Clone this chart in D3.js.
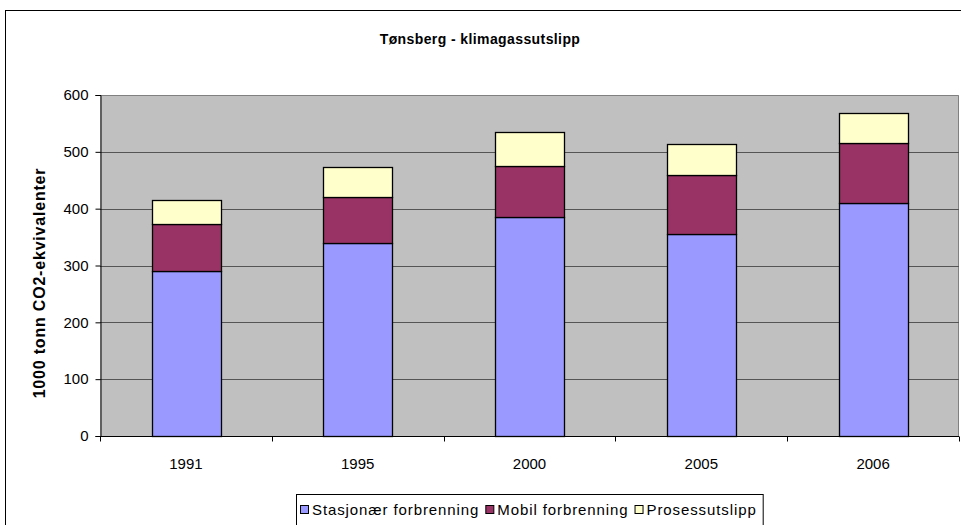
<!DOCTYPE html>
<meta charset="utf-8">
<script src="https://d3js.org/d3.v7.min.js"></script>
<style>
  body { margin: 0; background: #fff; }
  svg text { font-family: "Liberation Sans", Arial, sans-serif; fill: #000; }
</style>
<div id="chart"></div>
<script>

  // data
  var years = ["1991", "1995", "2000", "2005", "2006"];
  var stasjonaer = [291, 340, 385, 356, 410];
  var mobil = [82, 81, 90, 103, 106];
  var prosess = [43, 53, 60, 54, 52];
  var seriesNames = ["Stasjonær forbrenning", "Mobil forbrenning", "Prosessutslipp"];
  var seriesColors = ["#9999FF", "#993366", "#FFFFCC"];
  var yTicks = [0, 100, 200, 300, 400, 500, 600];

  var W = 961, H = 525;
  var margin = { top: 95, right: 2, bottom: 89, left: 100 };
  var width = W - margin.left - margin.right,
    height = H - margin.top - margin.bottom;

  var svg = d3.select("#chart").append("svg")
    .attr("width", W)
    .attr("height", H);

  // chart frame
  svg.append("rect")
    .attr("x", 5.5).attr("y", 10.5)
    .attr("width", W + 20).attr("height", H + 20)
    .attr("fill", "#fff").attr("stroke", "#000");

  // title
  svg.append("text")
    .attr("x", 480).attr("y", 44)
    .attr("text-anchor", "middle")
    .style("font-size", "14px")
    .style("font-weight", "bold")
    .style("letter-spacing", "0.4px")
    .text("Tønsberg - klimagassutslipp");

  var g = svg.append("g")
    .attr("transform", "translate(" + margin.left + "," + margin.top + ")");

  var x = d3.scaleBand().domain(years).range([0, width]).paddingInner(0.6).paddingOuter(0.3);
  var xb = d3.scaleBand().domain(years).range([0, width]);
  var y = d3.scaleLinear().domain([0, 600]).range([height, 0]);

  // plot area
  g.append("rect")
    .attr("width", width).attr("height", height)
    .attr("fill", "#C0C0C0");
  g.append("path")
    .attr("d", "M0,0.5H" + (width - 0.5) + "V" + height)
    .attr("fill", "none").attr("stroke", "#808080");

  // gridlines
  g.append("g").selectAll("line")
    .data(yTicks.filter(function (d) { return d > 0 && d < 600; }))
    .enter().append("line")
    .attr("x1", 0).attr("x2", width)
    .attr("y1", function (d) { return Math.round(y(d)) + 0.5; })
    .attr("y2", function (d) { return Math.round(y(d)) + 0.5; })
    .attr("stroke", "#555").attr("stroke-width", 1);

  // stacked bars
  var rows = years.map(function (yr, i) {
    return { year: yr, s0: stasjonaer[i], s1: mobil[i], s2: prosess[i] };
  });
  var stack = d3.stack().keys(["s0", "s1", "s2"])(rows);

  g.append("g").selectAll("g")
    .data(stack)
    .enter().append("g")
    .attr("fill", function (d, i) { return seriesColors[i]; })
    .selectAll("rect")
    .data(function (d) { return d; })
    .enter().append("rect")
    .attr("x", function (d) { return Math.round(x(d.data.year)) + 0.5; })
    .attr("y", function (d) { return Math.round(y(d[1])) + 0.5; })
    .attr("width", Math.round(x.bandwidth()))
    .attr("height", function (d) { return Math.round(y(d[0])) - Math.round(y(d[1])); })
    .attr("stroke", "#000").attr("stroke-width", 1.3);

  // y axis
  var yAxis = g.append("g")
    .attr("transform", "translate(0.5,0)")
    .call(d3.axisLeft(y).tickValues(yTicks).tickSize(5).tickPadding(7));
  yAxis.select(".domain").attr("stroke", "#000");
  yAxis.selectAll("text").style("font-size", "15px");

  // x axis with ticks at category boundaries
  var xAxis = g.append("g")
    .attr("transform", "translate(0," + (height + 0.5) + ")");
  xAxis.append("line").attr("x1", 0).attr("x2", width).attr("stroke", "#000");
  xAxis.selectAll(".tk")
    .data(years.concat(["end"]))
    .enter().append("line")
    .attr("x1", function (d, i) { return Math.round(i * xb.step()) + 0.5; })
    .attr("x2", function (d, i) { return Math.round(i * xb.step()) + 0.5; })
    .attr("y1", 0).attr("y2", 5)
    .attr("stroke", "#000");
  xAxis.selectAll("text")
    .data(years)
    .enter().append("text")
    .attr("x", function (d) { return xb(d) + xb.bandwidth() / 2; })
    .attr("y", 32)
    .attr("text-anchor", "middle")
    .style("font-size", "15px")
    .text(function (d) { return d; });

  // y label
  svg.append("text")
    .attr("transform", "translate(45,283) rotate(-90)")
    .attr("text-anchor", "middle")
    .style("font-size", "16px")
    .style("font-weight", "bold")
    .style("letter-spacing", "0.8px")
    .text("1000 tonn CO2-ekvivalenter");

  // legend
  var leg = svg.append("g");
  var legBox = leg.append("rect")
    .attr("x", 296.5).attr("y", 494.5)
    .attr("height", 60)
    .attr("fill", "#fff").attr("stroke", "#000");
  var lx = 300;
  seriesNames.forEach(function (name, i) {
    leg.append("rect")
      .attr("x", lx + 0.5).attr("y", 505.5)
      .attr("width", 8).attr("height", 8)
      .attr("fill", seriesColors[i]).attr("stroke", "#000");
    var t = leg.append("text")
      .attr("x", lx + 12).attr("y", 515)
      .style("font-size", "15px")
      .style("letter-spacing", "0.9px")
      .text(name);
    lx += 12 + t.node().getComputedTextLength() + 6;
  });
  legBox.attr("width", lx - 296);

</script>
